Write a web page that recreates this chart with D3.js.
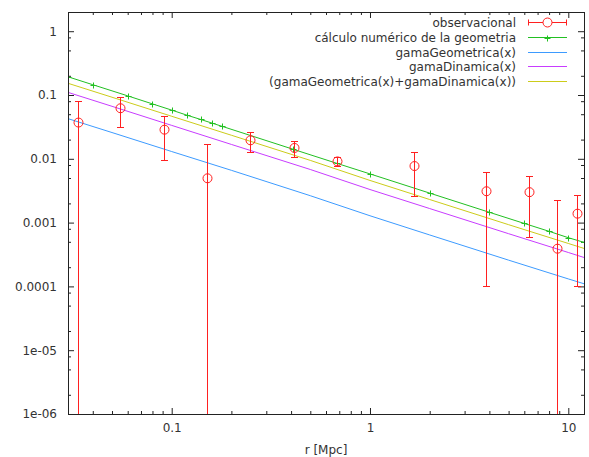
<!DOCTYPE html>
<html lang="es">
<head>
<meta charset="UTF-8">
<title>gama</title>
<script src="https://d3js.org/d3.v7.min.js"></script>
<style>
body { margin: 0; background: #fff; }
text { font-family: "DejaVu Sans", sans-serif; font-size: 12px; fill: #333; }
.axis line { stroke: #222; }
.axis path { display: none; }
</style>
</head>
<body>
<svg width="589" height="457"></svg>
<script>
// observacional (x, y, error)
var obsX   = [0.0335, 0.0546, 0.091, 0.151, 0.248, 0.413, 0.68, 1.66, 3.85, 6.33, 8.77, 11.1];
var obsY   = [0.037, 0.062, 0.0286, 0.00495, 0.0195, 0.0148, 0.0091, 0.0077, 0.0031, 0.003, 0.00039, 0.00138];
var obsErr = [0.045, 0.031, 0.019, 0.012, 0.0068, 0.0042, 0.0015, 0.0051, 0.003, 0.0024, 0.0019, 0.00128];

// calculo numerico de la geometria
var numX = [0.03, 0.04, 0.06, 0.08, 0.1, 0.12, 0.14, 0.16, 0.18, 0.41, 0.68, 1, 2, 4, 6, 8, 10, 12];
var numY = [0.193, 0.145, 0.097, 0.0725, 0.058, 0.048, 0.0414, 0.0362, 0.0322, 0.0141, 0.0085, 0.0058, 0.0029, 0.00145, 0.00097, 0.00073, 0.00058, 0.00049];

// funciones
var fX    = [0.03, 0.05, 0.1, 0.2, 0.5, 1, 2, 5, 10, 12];
var geoY  = [0.0426, 0.0258, 0.013, 0.0066, 0.00264, 0.00128, 0.00064, 0.000258, 0.000131, 0.00011];
var dinY  = [0.11, 0.0665, 0.0334, 0.0168, 0.0068, 0.0033, 0.00166, 0.00067, 0.00034, 0.000284];
var sumY  = [0.1526, 0.0923, 0.0464, 0.0234, 0.00944, 0.00458, 0.0023, 0.000928, 0.000471, 0.000394];

var xMajor = [0.1, 1, 10];
var xTickLabels = ["0.1", "1", "10"];
var yMajor = [1e-6, 1e-5, 1e-4, 1e-3, 1e-2, 0.1, 1];
var yTickLabels = ["1e-06", "1e-05", "0.0001", "0.001", "0.01", "0.1", "1"];

var legendNames = ["observacional", "cálculo numérico de la geometria", "gamaGeometrica(x)",
                   "gamaDinamica(x)", "(gamaGeometrica(x)+gamaDinamica(x))"];
var colors = ["#ff2020", "#22c022", "#3d9bff", "#c83cff", "#cccc1a"];

var svg = d3.select("svg");
var pL = 68, pR = 584, pT = 12, pB = 414;

var x = d3.scaleLog().domain([0.03, 12]).range([pL, pR]);
var y = d3.scaleLog().domain([1e-6, 2]).range([pB, pT]);

// minor ticks
var xMinor = [];
[0.01, 0.1, 1, 10].forEach(function(d) {
  for (var k = 2; k <= 9; k++) { var v = d * k; if (v > 0.03 && v < 12) xMinor.push(v); }
});
var yMinor = [];
[1e-6, 1e-5, 1e-4, 1e-3, 1e-2, 0.1, 1].forEach(function(d) {
  [2, 5, 8].forEach(function(k) { var v = d * k; if (v < 2) yMinor.push(v); });
});

function axisPair(g, axis, vals, size, fmt, pad) {
  g.call(axis.tickValues(vals).tickSize(size).tickPadding(pad || 3).tickFormat(fmt));
}

var bx = svg.append("g").attr("class", "axis").attr("transform", "translate(0," + pB + ")");
axisPair(bx, d3.axisBottom(x), xMajor, -6, function(d, i) { return xTickLabels[i]; }, 9.5);
var bxm = svg.append("g").attr("class", "axis").attr("transform", "translate(0," + pB + ")");
axisPair(bxm, d3.axisBottom(x), xMinor, -3, function() { return ""; });

var tx = svg.append("g").attr("class", "axis").attr("transform", "translate(0," + pT + ")");
axisPair(tx, d3.axisTop(x), xMajor, -6, function() { return ""; });
var txm = svg.append("g").attr("class", "axis").attr("transform", "translate(0," + pT + ")");
axisPair(txm, d3.axisTop(x), xMinor, -3, function() { return ""; });

var ly = svg.append("g").attr("class", "axis").attr("transform", "translate(" + pL + ",0)");
axisPair(ly, d3.axisLeft(y), yMajor, -6, function(d, i) { return yTickLabels[i]; }, 11);
var lym = svg.append("g").attr("class", "axis").attr("transform", "translate(" + pL + ",0)");
axisPair(lym, d3.axisLeft(y), yMinor, -3, function() { return ""; });

var ry = svg.append("g").attr("class", "axis").attr("transform", "translate(" + pR + ",0)");
axisPair(ry, d3.axisRight(y), yMajor, -6, function() { return ""; });
var rym = svg.append("g").attr("class", "axis").attr("transform", "translate(" + pR + ",0)");
axisPair(rym, d3.axisRight(y), yMinor, -3, function() { return ""; });

svg.selectAll(".axis text").style("font-family", "DejaVu Sans").style("font-size", "12px").attr("fill", "#333");

svg.append("text")
  .attr("x", (pL + pR) / 2).attr("y", 454)
  .attr("text-anchor", "middle")
  .text("r [Mpc]");

// clip
svg.append("clipPath").attr("id", "plot")
  .append("rect").attr("x", pL).attr("y", pT).attr("width", pR - pL).attr("height", pB - pT);

var plot = svg.append("g").attr("clip-path", "url(#plot)");

var line = d3.line().x(function(d) { return x(d[0]); }).y(function(d) { return y(d[1]); });

function series(xs, ys) { return xs.map(function(v, i) { return [v, ys[i]]; }); }

plot.append("path").datum(series(numX, numY))
  .attr("d", line).attr("fill", "none").attr("stroke", colors[1]).attr("stroke-width", 1);
plot.append("path").datum(series(fX, geoY))
  .attr("d", line).attr("fill", "none").attr("stroke", colors[2]).attr("stroke-width", 1);
plot.append("path").datum(series(fX, dinY))
  .attr("d", line).attr("fill", "none").attr("stroke", colors[3]).attr("stroke-width", 1);
plot.append("path").datum(series(fX, sumY))
  .attr("d", line).attr("fill", "none").attr("stroke", colors[4]).attr("stroke-width", 1);

// + markers
function plus(g, cx, cy, h, color) {
  cx = Math.round(cx) + 0.5; cy = Math.round(cy) + 0.5;
  g.append("path")
    .attr("d", "M" + (cx - h) + "," + cy + "H" + (cx + h) + "M" + cx + "," + (cy - h) + "V" + (cy + h))
    .attr("stroke", color).attr("fill", "none");
}
numX.forEach(function(v, i) { plus(plot, x(v), y(numY[i]), 3, colors[1]); });

// error bars
obsX.forEach(function(v, i) {
  var px = Math.round(x(v)) + 0.5;
  var hi = Math.round(y(obsY[i] + obsErr[i])) + 0.5;
  var lo = (obsY[i] - obsErr[i]) > 0 ? Math.round(y(obsY[i] - obsErr[i])) + 0.5 : pB + 5;
  var g = plot.append("g").attr("stroke", colors[0]).attr("fill", "none");
  g.append("line").attr("x1", px).attr("x2", px).attr("y1", hi).attr("y2", lo);
  g.append("line").attr("x1", px - 3.5).attr("x2", px + 3.5).attr("y1", hi).attr("y2", hi);
  g.append("line").attr("x1", px - 3.5).attr("x2", px + 3.5).attr("y1", lo).attr("y2", lo);
  g.append("circle").attr("cx", px).attr("cy", y(obsY[i])).attr("r", 4.5);
});

// legend
var lg = svg.append("g");
legendNames.forEach(function(name, i) {
  var cy = Math.round(22 + i * 14.75) + 0.5;
  lg.append("text").attr("x", 516).attr("y", cy + 4).attr("text-anchor", "end").text(name);
  lg.append("line").attr("x1", 528).attr("x2", 567).attr("y1", cy).attr("y2", cy)
    .attr("stroke", colors[i]);
  if (i == 0) {
    lg.append("line").attr("x1", 528.5).attr("x2", 528.5).attr("y1", cy - 3).attr("y2", cy + 3).attr("stroke", colors[0]);
    lg.append("line").attr("x1", 566.5).attr("x2", 566.5).attr("y1", cy - 3).attr("y2", cy + 3).attr("stroke", colors[0]);
    lg.append("circle").attr("cx", 547.5).attr("cy", cy).attr("r", 4.5).attr("fill", "#fff").attr("stroke", colors[0]);
  }
  if (i == 1) plus(lg, 547, cy, 3, colors[1]);
});

// border
svg.append("rect")
  .attr("x", pL + 0.5).attr("y", pT + 0.5).attr("width", pR - pL).attr("height", pB - pT)
  .attr("fill", "none").attr("stroke", "#222");
</script>
</body>
</html>
